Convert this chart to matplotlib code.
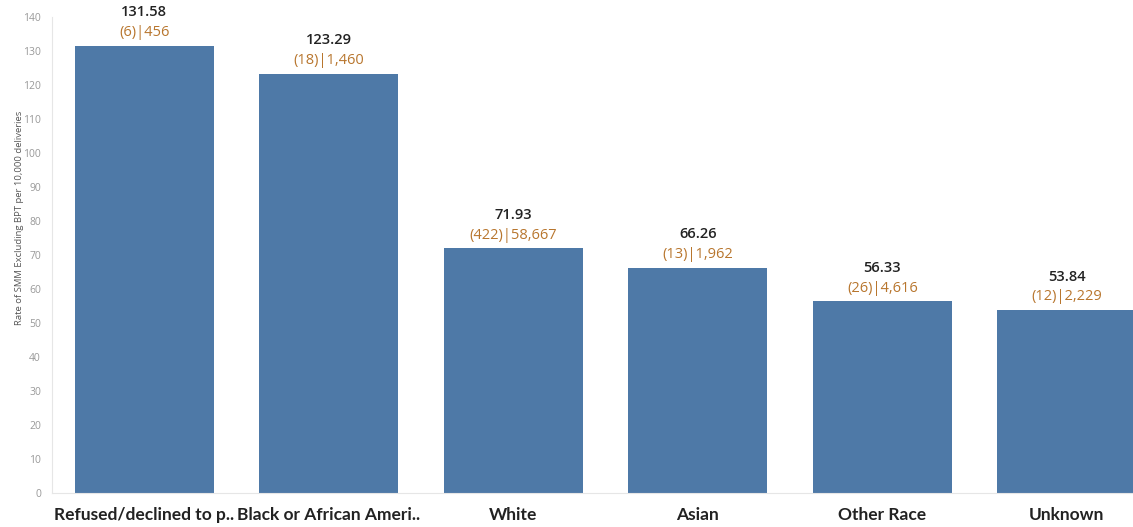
import matplotlib.pyplot as plt
import numpy as np

plt.rcParams['font.family'] = ['Open Sans', 'DejaVu Sans']

categories = ['Refused/declined to p..', 'Black or African Ameri..', 'White',
              'Asian', 'Other Race', 'Unknown']
rates = [131.58, 123.29, 71.93, 66.26, 56.33, 53.84]
cases = [6, 18, 422, 13, 26, 12]
deliveries = [456, 1460, 58667, 1962, 4616, 2229]

bar_color = '#4e79a7'
count_color = '#b8762e'

fig = plt.figure(figsize=(11.33, 5.27), dpi=100)
# the last band runs past the right edge of the figure
ax = fig.add_axes([52 / 1133, 34 / 527, 1107 / 1133, 476 / 527])

x = np.arange(len(categories))
ax.bar(x, rates, width=0.755, color=bar_color)

for xi, r, c, d in zip(x, rates, cases, deliveries):
    ax.annotate(f'{r:.2f}', (xi, r), xytext=(0, 19), textcoords='offset points',
                ha='center', va='bottom', fontsize=10.5, color='#222222',
                fontweight='semibold')
    ax.annotate(f'({c})|{d:,}', (xi, r), xytext=(0, 4), textcoords='offset points',
                ha='center', va='bottom', fontsize=10.5, color=count_color)

ax.set_xlim(-0.5, len(categories) - 0.5)
ax.set_ylim(0, 140)
ax.set_yticks(np.arange(0, 141, 10))
ax.set_xticks(x)
ax.set_xticklabels(categories, fontsize=12.5, fontweight='bold', color='#222222',
                   family=['Lato', 'DejaVu Sans'])
ax.tick_params(axis='x', length=0, pad=10)
ax.tick_params(axis='y', length=0, labelsize=7.5, labelcolor='#999999', pad=8)

for side in ['top', 'right']:
    ax.spines[side].set_visible(False)
ax.spines['left'].set_color('#e6e6e6')
ax.spines['bottom'].set_color('#e6e6e6')

fig.text(20 / 1133, 1 - 218 / 527, 'Rate of SMM Excluding BPT per 10,000 deliveries',
         rotation=90, ha='center', va='center', fontsize=6.8, color='#555555')

fig.savefig('out.png', dpi=100)
